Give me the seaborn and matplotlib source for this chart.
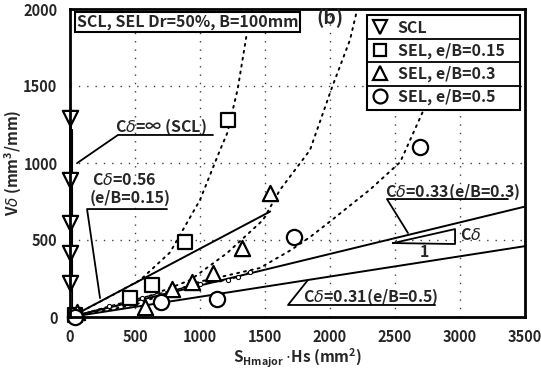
import matplotlib
matplotlib.use('Agg')
import matplotlib.pyplot as plt
import seaborn as sns
from matplotlib.lines import Line2D

sns.set_theme(style='white')
plt.rcParams['font.family'] = ['Noto Sans CJK JP', 'DejaVu Sans']
plt.rcParams['mathtext.fontset'] = 'dejavusans'

# ---------------- data ----------------
scl_x = [0, 0, 0, 0, 0]
scl_y = [1290, 890, 610, 415, 220]
sel15_x = [40, 460, 630, 885, 1215]
sel15_y = [10, 125, 210, 487, 1276]
sel30_x = [55, 577, 785, 938, 1100, 1323, 1540]
sel30_y = [30, 66, 184, 227, 286, 448, 805]
sel50_x = [40, 700, 1130, 1720, 2690]
sel50_y = [0, 97, 117, 520, 1105]

# fitted straight lines
inf_x = [15, 15]
inf_y = [0, 1220]
fit056_x = [40, 1540]
fit056_y = [15, 685]
fit033_x = [40, 3500]
fit033_y = [8, 717]
fit031_x = [40, 3500]
fit031_y = [5, 460]
# dashed curve with small circles (e/B=0.3)
fit03c_x = [60, 300, 550, 800, 1000, 1215, 1292, 1385]
fit03c_y = [12, 70, 125, 175, 215, 240, 260, 292]

# dotted curves
c1_x = [40, 300, 540, 770, 1000, 1154, 1210, 1290, 1360, 1400]
c1_y = [15, 130, 240, 420, 760, 1084, 1195, 1480, 1840, 2000]
c2_x = [40, 500, 925, 1208, 1485, 1615, 1846, 2015, 2154, 2210]
c2_y = [10, 100, 240, 415, 630, 825, 1084, 1490, 1800, 2000]
c3_x = [40, 500, 1000, 1460, 1700, 1846, 2000, 2310, 2540, 2715, 2800]
c3_y = [5, 80, 230, 318, 435, 519, 620, 829, 1006, 1335, 1500]

xticks = [0, 500, 1000, 1500, 2000, 2500, 3000, 3500]
yticks = [0, 500, 1000, 1500, 2000]
legend_labels = ['SCL', 'SEL, e/B=0.15', 'SEL, e/B=0.3', 'SEL, e/B=0.5']

FS = 11.5
W = 'bold'
CD = r'C$\delta$'

# ---------------- figure ----------------
fig = plt.figure(figsize=(5.41, 3.73), dpi=100)
ax = fig.add_axes([70/541, 1-317/373, 455/541, 308/373])
ax.set_xlim(0, 3500)
ax.set_ylim(0, 2000)
ax.set_xticks(xticks)
ax.set_yticks(yticks)
ax.set_axisbelow(True)
ax.grid(True, color='0.25', linestyle=(0, (1, 5)), linewidth=1.0)
for s in ax.spines.values():
    s.set_linewidth(2.0)
    s.set_color('black')
    s.set_zorder(4)
ax.tick_params(length=0, pad=9, labelsize=10.5)
for lab in ax.get_xticklabels() + ax.get_yticklabels():
    lab.set_fontweight('bold')

def line(x, y, lw=1.3, dashes=None, **kw):
    sns.lineplot(x=x, y=y, color='black', lw=lw, sort=False, estimator=None,
                 ax=ax, legend=False, **kw)
    ln = ax.lines[-1]
    if dashes is not None:
        ln.set_dashes(dashes)
    ln.set_zorder(2)
    return ln

# dotted curves
for cx, cy in [(c1_x, c1_y), (c2_x, c2_y), (c3_x, c3_y)]:
    l = line(cx, cy, lw=1.4, dashes=(1, 2.6))
    l.set_dash_capstyle('round')
# straight fit lines
line(fit056_x, fit056_y, lw=1.4)
line(fit033_x, fit033_y, lw=1.4)
line(fit031_x, fit031_y, lw=1.4)
line(inf_x, inf_y, lw=0.8)
line(scl_x, scl_y, lw=2.0).set_clip_on(False)
line(fit03c_x, fit03c_y, lw=1.0, dashes=(3, 2), marker='o', markersize=3,
     markerfacecolor='white', markeredgecolor='black')

mk = dict(facecolor='white', edgecolor='black', linewidth=1.6, ax=ax,
          clip_on=False, zorder=3, legend=False)
sns.scatterplot(x=scl_x, y=scl_y, marker='v', s=120, **mk)
sns.scatterplot(x=sel15_x, y=sel15_y, marker='s', s=100, **mk)
sns.scatterplot(x=sel30_x, y=sel30_y, marker='^', s=120, **mk)
sns.scatterplot(x=sel50_x, y=sel50_y, marker='o', s=120, **mk)

# axis labels
ax.set_xlabel(r'S$_{\mathregular{Hmajor}}$ $\cdot$Hs (mm$^{\mathregular{2}}$)',
              fontsize=11, fontweight=W)
ax.xaxis.set_label_coords(0.5, -0.098)
ax.set_ylabel(r'V$\delta$ (mm$^{\mathregular{3}}$/mm)', fontsize=11, fontweight=W)
ax.yaxis.set_label_coords(-0.1, 0.5)

# title box and (b)
ax.text(905, 1916, 'SCL, SEL Dr=50%, B=100mm', ha='center', va='center',
        fontsize=FS, fontweight=W, zorder=6,
        bbox=dict(boxstyle='square,pad=0.12', fc='white', ec='black', lw=1.5))
ax.text(2000, 1942, '(b)', ha='center', va='center', fontsize=14, fontweight=W, zorder=6)

# annotations
def note(txt_lines, ux0, ux1, uy, lx, ly):
    for t, tx, ty in txt_lines:
        ax.text(tx, ty, t, ha='left', va='center', fontsize=FS, fontweight=W, zorder=6)
    ax.plot([lx, ux0, ux1], [ly, uy, uy], color='black', lw=1.3, zorder=6)

note([(CD + '=\u221e (SCL)', 346, 1234)], 369, 1100, 1182, 54, 999)
note([(CD + '=0.56', 170, 890), ('(e/B=0.15)', 154, 773)], 131, 746, 701, 231, 123)
note([(CD + '=0.33(e/B=0.3)', 2423, 812)], 2438, 3369, 766, 2600, 545)
note([(CD + '=0.31(e/B=0.5)', 1792, 130)], 1677, 2808, 78, 1830, 240)
# slope triangle
ax.plot([2485, 2962, 2962, 2485], [480, 571, 474, 480], color='black', lw=1.3, zorder=6)
ax.text(3000, 532, CD, ha='left', va='center', fontsize=FS, fontweight=W, zorder=6)
ax.text(2730, 422, '1', ha='center', va='center', fontsize=FS, fontweight=W, zorder=6)

# legend
handles = [Line2D([], [], ls='none', marker=m, markersize=ms, markerfacecolor='white',
                  markeredgecolor='black', markeredgewidth=1.6)
           for m, ms in [('v', 10), ('s', 9), ('^', 10), ('o', 10)]]
leg = ax.legend(handles, legend_labels, loc='upper left',
                bbox_to_anchor=(0.653, 0.679, 0.336, 0.302), mode='expand',
                frameon=True, fancybox=False, framealpha=1, edgecolor='black',
                prop={'size': FS, 'weight': W}, handlelength=1.0, handletextpad=0.6,
                labelspacing=0.42, borderpad=0.32, borderaxespad=0)
leg.get_frame().set_linewidth(1.5)
leg.set_zorder(7)

fig.canvas.draw()
r = fig.canvas.get_renderer()
fb = leg.get_frame().get_window_extent(r)
centers = [t.get_window_extent(r) for t in leg.get_texts()]
inv = fig.transFigure.inverted()
for a, b in zip(centers[:-1], centers[1:]):
    yd = (a.y0 + b.y1) / 2
    p0 = inv.transform((fb.x0, yd))
    p1 = inv.transform((fb.x1, yd))
    fig.add_artist(Line2D([p0[0], p1[0]], [p0[1], p1[1]], color='black',
                          lw=1.3, zorder=8, transform=fig.transFigure))

fig.savefig('out.png', dpi=100)
